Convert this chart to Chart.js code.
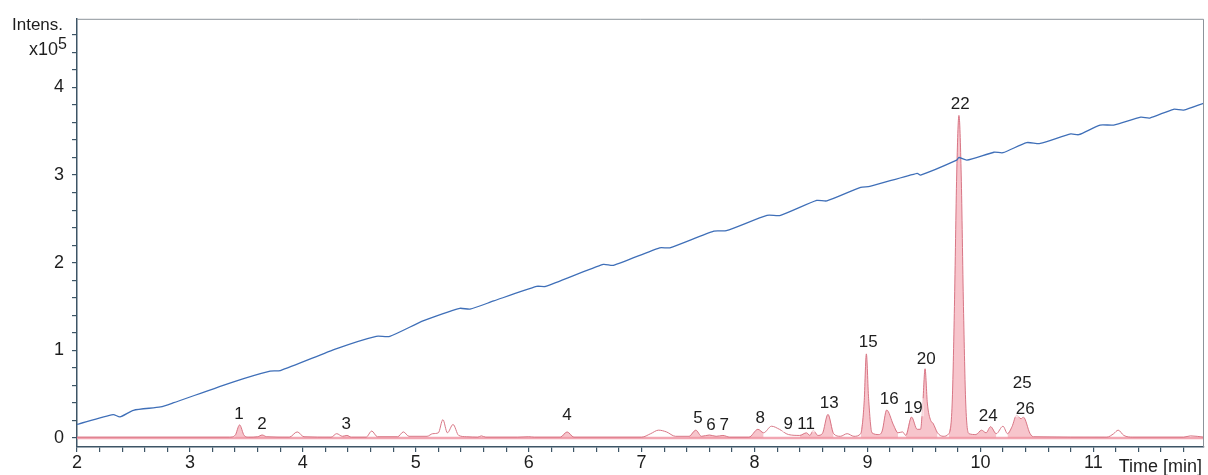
<!DOCTYPE html>
<html>
<head>
<meta charset="utf-8">
<script src="https://cdn.jsdelivr.net/npm/chart.js@4/dist/chart.umd.min.js"></script>
<style>
  html, body { margin: 0; padding: 0; background: #fff; }
  #wrap { width: 1208px; height: 475px; position: relative; }
</style>
</head>
<body>
<div id="wrap"><canvas id="myChart" width="1208" height="475"></canvas></div>
<script>
// gradient trace (blue), x10^5 units
var gradTime = [2.00, 2.32, 2.38, 2.50, 2.74, 2.85, 3.38, 3.71, 3.80, 4.30, 4.65, 4.77, 5.07, 5.39, 5.48,
  5.69, 6.07, 6.15, 6.66, 6.75, 7.16, 7.25, 7.64, 7.75, 8.11, 8.23, 8.55, 8.64, 8.94, 9.02,
  9.44, 9.47, 9.79, 9.81, 9.88, 10.12, 10.20, 10.41, 10.53, 10.80, 10.87, 11.06, 11.18, 11.42, 11.50,
  11.71, 11.80, 11.98];
var gradVal = [0.155, 0.268, 0.241, 0.317, 0.355, 0.400, 0.639, 0.764, 0.770, 1.02, 1.16, 1.16, 1.34, 1.48, 1.47,
  1.564, 1.73, 1.73, 1.98, 1.97, 2.17, 2.17, 2.36, 2.365, 2.54, 2.54, 2.71, 2.705, 2.86, 2.87,
  3.02, 3.00, 3.17, 3.20, 3.17, 3.26, 3.255, 3.37, 3.36, 3.47, 3.46, 3.57, 3.57, 3.66, 3.65,
  3.75, 3.74, 3.82];

// chromatogram trace, x10^5 units
var traceTime = [2.00, 3.35, 3.40, 3.44, 3.48, 3.52, 3.60, 3.64, 3.68, 3.88, 3.95, 4.01, 4.25, 4.30, 4.35,
  4.39, 4.43, 4.56, 4.61, 4.66, 4.84, 4.89, 4.94, 5.10, 5.15, 5.20, 5.24, 5.28, 5.33, 5.38,
  5.45, 5.55, 5.58, 5.62, 5.90, 6.00, 6.05, 6.28, 6.34, 6.40, 7.00, 7.08, 7.15, 7.22, 7.30,
  7.42, 7.48, 7.53, 7.60, 7.66, 7.72, 7.78, 7.95, 8.03, 8.08, 8.15, 8.22, 8.30, 8.40, 8.46,
  8.49, 8.52, 8.56, 8.60, 8.65, 8.70, 8.76, 8.82, 8.88, 8.94, 8.97, 8.99, 9.01, 9.04, 9.10,
  9.13, 9.17, 9.23, 9.27, 9.31, 9.34, 9.39, 9.44, 9.47, 9.49, 9.51, 9.53, 9.56, 9.58, 9.62, 9.67,
  9.72, 9.75, 9.77, 9.79, 9.81, 9.83, 9.85, 9.87, 9.90, 9.96, 10.01, 10.05, 10.09, 10.14, 10.20,
  10.24, 10.28, 10.32, 10.36, 10.38, 10.44, 10.47, 11.12, 11.18, 11.22, 11.27, 11.35, 11.80, 11.86, 11.98];
var traceVal = [0.01, 0.01, 0.03, 0.15, 0.03, 0.01, 0.015, 0.035, 0.015, 0.01, 0.07, 0.015, 0.01, 0.05, 0.02,
  0.03, 0.01, 0.01, 0.08, 0.015, 0.015, 0.07, 0.02, 0.02, 0.05, 0.06, 0.21, 0.06, 0.155, 0.03,
  0.015, 0.01, 0.025, 0.01, 0.01, 0.015, 0.01, 0.01, 0.07, 0.01, 0.01, 0.05, 0.09, 0.07, 0.02,
  0.02, 0.09, 0.02, 0.035, 0.02, 0.03, 0.01, 0.01, 0.10, 0.06, 0.135, 0.10, 0.04, 0.03, 0.06,
  0.03, 0.09, 0.03, 0.05, 0.27, 0.05, 0.02, 0.05, 0.02, 0.05, 0.40, 0.96, 0.45, 0.06, 0.04,
  0.08, 0.32, 0.15, 0.06, 0.07, 0.03, 0.24, 0.10, 0.10, 0.40, 0.79, 0.40, 0.20, 0.17, 0.06, 0.02,
  0.05, 0.40, 1.50, 3.00, 3.68, 3.00, 1.50, 0.40, 0.05, 0.04, 0.09, 0.06, 0.13, 0.05, 0.135,
  0.05, 0.13, 0.26, 0.22, 0.24, 0.05, 0.015, 0.01, 0.05, 0.09, 0.03, 0.01, 0.01, 0.025, 0.01];

// integrated peak windows [start, end] in min
var peakWindows = [[3.40, 3.52], [3.60, 3.68], [4.35, 4.43], [6.28, 6.40], [7.42, 7.53], [7.53, 7.66],
  [7.66, 7.78], [7.95, 8.08], [8.40, 8.49], [8.49, 8.56], [8.60, 8.70], [8.94, 9.04], [9.10, 9.27],
  [9.34, 9.44], [9.44, 9.62], [9.72, 9.90], [9.96, 10.14], [10.24, 10.47]];

// peak labels and where they sit (time, intensity)
var peakLabels = ["1", "2", "3", "4", "5", "6", "7", "8", "9", "11", "13", "15", "16", "19", "20", "22", "24", "25", "26"];
var labelTime = [3.435, 3.639, 4.383, 6.340, 7.500, 7.615, 7.731, 8.050, 8.298, 8.457, 8.661, 9.006, 9.192, 9.405, 9.520, 9.821, 10.069, 10.370, 10.397];
var labelLevel = [0.283, 0.170, 0.170, 0.272, 0.238, 0.159, 0.159, 0.238, 0.170, 0.170, 0.408, 1.099, 0.453, 0.351, 0.906, 3.819, 0.261, 0.635, 0.340];

var axisColor = "#3d5566";
var fontFam = "'Liberation Sans', Arial, sans-serif";

const toPoints = (xs, ys) => xs.map((x, i) => ({ x: x, y: ys[i] }));

var fillPoints = [];
traceTime.forEach((t, i) => {
  var inside = peakWindows.some((w) => t >= w[0] - 1e-9 && t <= w[1] + 1e-9);
  fillPoints.push({ x: t, y: inside ? traceVal[i] : null });
});

const isWhole = (v) => Math.abs(v - Math.round(v)) < 1e-6;

const decorations = {
  id: "decorations",
  afterDraw(chart) {
    var ctx = chart.ctx;
    var area = chart.chartArea;
    var xs = chart.scales.x;
    var ys = chart.scales.y;
    ctx.save();
    // frame top / right
    ctx.strokeStyle = "#8c939a";
    ctx.lineWidth = 1;
    ctx.beginPath();
    ctx.moveTo(area.left, area.top + 0.5);
    ctx.lineTo(area.right - 0.5, area.top + 0.5);
    ctx.lineTo(area.right - 0.5, area.bottom);
    ctx.stroke();

    // peak labels
    ctx.font = "17px " + fontFam;
    ctx.textAlign = "center";
    ctx.textBaseline = "middle";
    for (let i = 0; i < peakLabels.length; i++) {
      var px = xs.getPixelForValue(labelTime[i]);
      var py = ys.getPixelForValue(labelLevel[i]);
      var w = ctx.measureText(peakLabels[i]).width;
      ctx.fillStyle = "rgba(255,255,255,0.6)";
      ctx.fillRect(px - w / 2 - 1, py - 9, w + 2, 18);
      ctx.fillStyle = "#1e1e1e";
      ctx.fillText(peakLabels[i], px, py + 1);
    }

    // axis titles
    ctx.fillStyle = "#1e1e1e";
    ctx.textAlign = "left";
    ctx.textBaseline = "alphabetic";
    ctx.font = "17px " + fontFam;
    ctx.fillText("Intens.", 12, 30);
    ctx.font = "18px " + fontFam;
    ctx.fillText("x10", 29, 55);
    var xw = ctx.measureText("x10").width;
    ctx.font = "16px " + fontFam;
    ctx.fillText("5", 29 + xw, 49);
    ctx.font = "18px " + fontFam;
    ctx.textAlign = "right";
    ctx.fillText("Time [min]", 1202, 472);
    ctx.restore();
  },
};

const config = {
  type: "line",
  data: {
    datasets: [
      {
        label: "Gradient",
        data: toPoints(gradTime, gradVal),
        borderColor: "#3f6fb8",
        borderWidth: 1.3,
        pointRadius: 0,
        tension: 0.2,
        order: 0,
      },
      {
        label: "Trace",
        data: toPoints(traceTime, traceVal),
        borderColor: "rgba(214,112,128,0.95)",
        borderWidth: 1,
        pointRadius: 0,
        cubicInterpolationMode: "monotone",
        order: 1,
      },
      {
        label: "Peaks",
        data: fillPoints,
        borderColor: "rgba(0,0,0,0)",
        borderWidth: 0,
        backgroundColor: "rgba(240,150,162,0.55)",
        fill: "origin",
        pointRadius: 0,
        spanGaps: false,
        cubicInterpolationMode: "monotone",
        order: 2,
      },
      {
        label: "Zero",
        data: [{ x: 2, y: 0 }, { x: 11.98, y: 0 }],
        borderColor: "rgba(240,150,165,0.85)",
        borderWidth: 2.5,
        pointRadius: 0,
        order: 3,
      },
    ],
  },
  options: {
    responsive: false,
    animation: false,
    layout: { padding: { left: 0, top: 16, right: 4, bottom: 0 } },
    plugins: { legend: { display: false }, tooltip: { enabled: false } },
    scales: {
      x: {
        type: "linear",
        min: 2,
        max: 11.98,
        border: { color: axisColor, width: 1.5 },
        grid: { drawOnChartArea: false, tickLength: 5, color: axisColor, lineWidth: 1.2 },
        ticks: {
          stepSize: 0.2,
          includeBounds: false,
          autoSkip: false,
          maxRotation: 0,
          padding: 0,
          color: "#1e1e1e",
          font: { family: fontFam, size: 18 },
          callback: (value) => (isWhole(value) ? String(Math.round(value)) : ""),
        },
        afterFit: (s) => { s.height = 28; },
      },
      y: {
        type: "linear",
        min: -0.102,
        max: 4.782,
        border: { color: axisColor, width: 1.5 },
        grid: { drawOnChartArea: false, tickLength: 5, color: axisColor, lineWidth: 1.2 },
        ticks: {
          stepSize: 0.2,
          includeBounds: false,
          autoSkip: false,
          padding: 8,
          color: "#1e1e1e",
          font: { family: fontFam, size: 18 },
          callback: (value) => (isWhole(value) ? String(Math.round(value)) : ""),
        },
        afterFit: (s) => { s.width = 77; },
      },
    },
  },
  plugins: [decorations],
};

const myChart = new Chart(document.getElementById("myChart"), config);
</script>
</body>
</html>
